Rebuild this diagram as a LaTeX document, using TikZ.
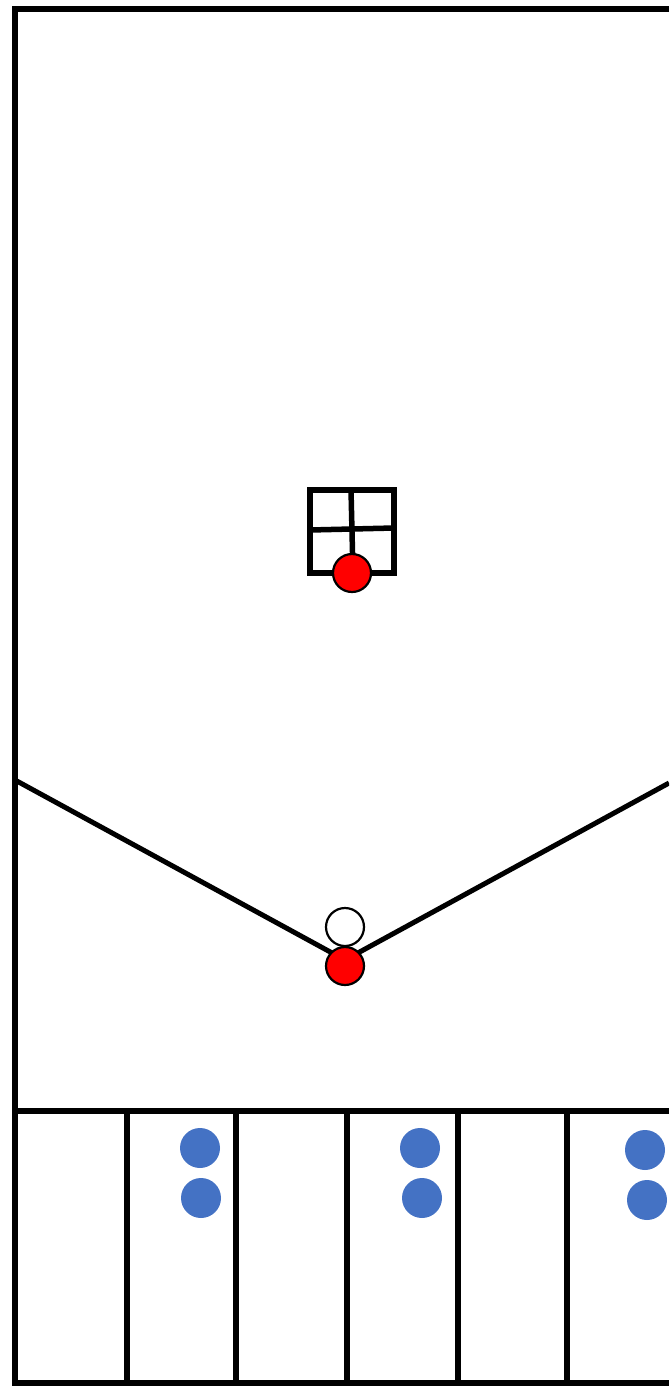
\documentclass[tikz,border=0pt]{standalone}
\begin{document}
\begin{tikzpicture}[x=1pt,y=-1pt,
  wall/.style={line width=5.5pt},
  redball/.style={circle,draw=black,line width=2.2pt,fill=red,minimum size=38pt,inner sep=0pt},
  whiteball/.style={circle,draw=black,line width=2.2pt,fill=white,minimum size=38pt,inner sep=0pt},
  blueball/.style={circle,fill={rgb,255:red,68;green,114;blue,196},minimum size=40pt,inner sep=0pt}]
\useasboundingbox (0,0) rectangle (669,1386);
\clip (0,0) rectangle (669,1386);
% frame
\draw[wall] (669,9) -- (15,9) -- (15,1383) -- (669,1383);
\draw[wall] (15,1111) -- (669,1111);
\foreach \x [count=\i] in {127,236,347,458,567} {
  \draw[wall] (\x,1111) -- (\x,1383);
}
% window
\draw[wall] (310,490) rectangle (394,573);
\draw[wall] (351,490) -- (353,573);
\draw[wall] (310,530) -- (394,528);
\node[redball] (r1) at (352,573) {};
% V
\coordinate (vl) at (15,780);
\coordinate (vr) at (669,783);
\coordinate (vb) at (345,960);
\draw[line width=5pt] (vl) -- (vb) -- (vr);
\node[whiteball] (w) at (345,927) {};
\node[redball] (r2) at (345,966) {};
% blue balls
\node[blueball] (b1) at (200,1148) {};
\node[blueball] (b2) at (201,1198) {};
\node[blueball] (b3) at (420,1148) {};
\node[blueball] (b4) at (422,1198) {};
\node[blueball] (b5) at (645,1150) {};
\node[blueball] (b6) at (647,1200) {};
\end{tikzpicture}
\end{document}
